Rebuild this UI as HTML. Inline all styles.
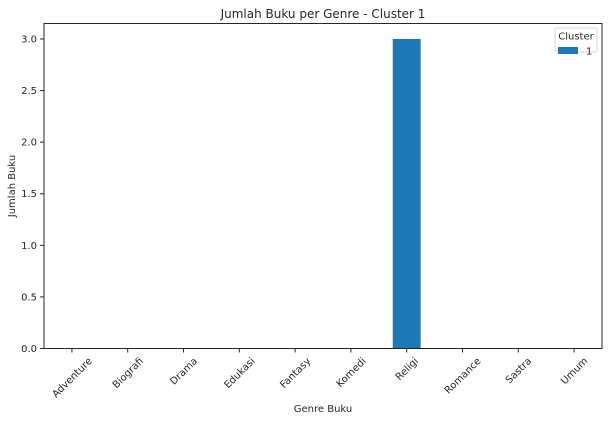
<!DOCTYPE html>
<html><head><meta charset="utf-8"><style>
body{margin:0;background:#fff;}
text{font-family:"DejaVu Sans","Liberation Sans",sans-serif;fill:#262626;}
</style></head><body>
<svg id="c" width="609" height="421" xmlns="http://www.w3.org/2000/svg">
<text x="323" y="18" font-size="12" text-anchor="middle">Jumlah Buku per Genre - Cluster 1</text>
<text x="323" y="412" font-size="10" text-anchor="middle">Genre Buku</text>
<text transform="translate(15,186) rotate(-90)" font-size="10" text-anchor="middle">Jumlah Buku</text>
<g id="marks"></g>
<rect x="44" y="23.5" width="558" height="325" fill="none" stroke="#262626" stroke-width="1"/>
<g>
<rect x="555" y="28" width="42" height="24" rx="2" fill="#fff" stroke="#ccc" stroke-width="0.8"/>
<text x="576" y="39.5" font-size="10" text-anchor="middle">Cluster</text>
<rect x="558" y="47" width="20" height="7" fill="#1f77b4"/>
<text x="586" y="54.5" font-size="10">1</text>
</g>
</svg>
<script>
const categories=["Adventure","Biografi","Drama","Edukasi","Fantasy","Komedi","Religi","Romance","Sastra","Umum"];
const values=[0,0,0,0,0,0,3,0,0,0];
const yTicks=[0,0.5,1,1.5,2,2.5,3];
const yTickLabels=["0.0","0.5","1.0","1.5","2.0","2.5","3.0"];
const NS="http://www.w3.org/2000/svg";
const L=44,R=602,B=348.5,yMax=3.15,T=23.5;
const step=(R-L)/categories.length;
const x=i=>L+step*(i+0.5);
const y=v=>B-(v/yMax)*(B-T);
const g=document.getElementById('marks');
function mk(t,a){const e=document.createElementNS(NS,t);for(const k in a)e.setAttribute(k,a[k]);g.appendChild(e);return e;}
categories.forEach((c,i)=>{
  const v=values[i];
  const r=mk('rect',{x:x(i)-step*0.25,y:y(v),width:step*0.5,height:B-y(v),fill:'#1f77b4'});
  
  
  const tk=mk('line',{x1:x(i),x2:x(i),y1:B,y2:B+4,stroke:'#262626'});
  
  
  const t=mk('text',{x:0,y:0,'font-size':10,'text-anchor':'middle'});
  t.textContent=c;
  
  
  const w=t.getComputedTextLength(),h=10;
  const cy=B+7+(w+h)/(2*Math.SQRT2);
  t.setAttribute('transform',`translate(${x(i)},${cy}) rotate(-45) translate(0,3.5)`);
});
yTicks.forEach((v,i)=>{
  const tk=mk('line',{x1:L-4,x2:L,y1:y(v),y2:y(v),stroke:'#262626'});
  
  
  const t=mk('text',{x:L-7,y:y(v)+3.5,'font-size':10,'text-anchor':'end'});
  t.textContent=yTickLabels[i];
  
  
});
</script>
</body></html>
